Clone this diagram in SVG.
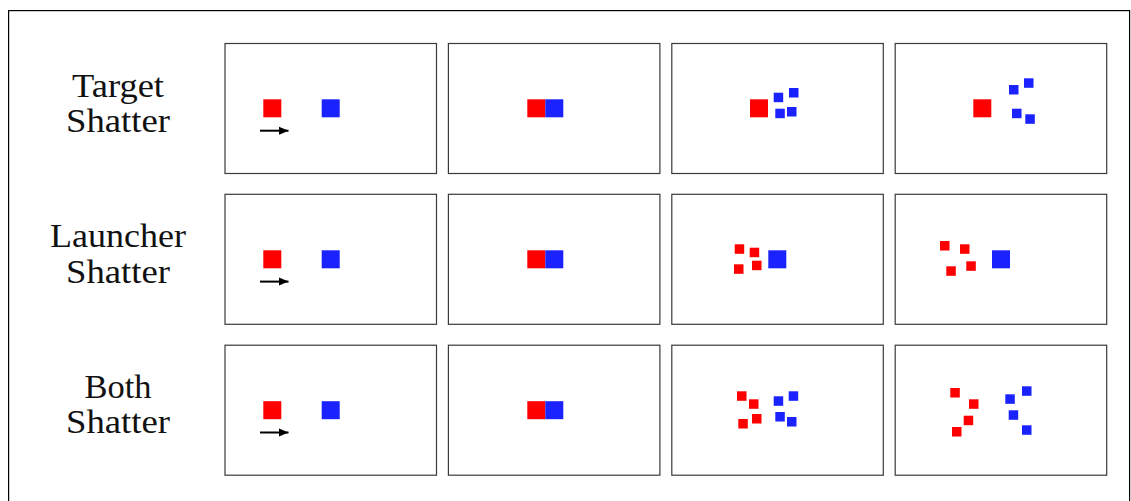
<svg xmlns="http://www.w3.org/2000/svg" width="1131" height="501" viewBox="0 0 1131 501">
<style>
.frame{fill:none;stroke:#000;stroke-width:1.2}
.panel{fill:#fff;stroke:#3a3a3a;stroke-width:1.2}
.r{fill:#ff0000}
.b{fill:#1a22ff}
.lbl{font-family:"Liberation Serif","Times New Roman",serif;font-size:34px;fill:#111;text-anchor:middle}
.arr{stroke:#000;stroke-width:2;fill:none}
</style>
<defs>
<marker id="ah" markerUnits="userSpaceOnUse" markerWidth="11" markerHeight="10" refX="10" refY="5" orient="auto">
<path d="M0,0.8 L10,5 L0,9.2 Z" fill="#000"/>
</marker>
</defs>
<rect width="1131" height="501" fill="#fff"/>
<rect class="frame" x="8.6" y="10.6" width="1121" height="500"/>

<g id="labels">
<text class="lbl" x="118" y="96.7" textLength="92" lengthAdjust="spacingAndGlyphs">Target</text>
<text class="lbl" x="118" y="131.7" textLength="104" lengthAdjust="spacingAndGlyphs">Shatter</text>
<text class="lbl" x="118" y="247" textLength="136" lengthAdjust="spacingAndGlyphs">Launcher</text>
<text class="lbl" x="118" y="282.7" textLength="104" lengthAdjust="spacingAndGlyphs">Shatter</text>
<text class="lbl" x="118" y="398.3" textLength="67" lengthAdjust="spacingAndGlyphs">Both</text>
<text class="lbl" x="118" y="433.3" textLength="104" lengthAdjust="spacingAndGlyphs">Shatter</text>
</g>

<!-- Row 1: Target Shatter -->
<g id="r1c1">
<rect class="panel" x="225" y="43.5" width="211.5" height="130"/>
<rect class="r" x="263.3" y="99.3" width="18" height="18"/>
<rect class="b" x="321.7" y="99.3" width="18" height="18"/>
</g>
<g id="r1c2">
<rect class="panel" x="448.4" y="43.5" width="211.5" height="130"/>
<rect class="r" x="527.3" y="99.3" width="18" height="18"/>
<rect class="b" x="545.3" y="99.3" width="18" height="18"/>
</g>
<g id="r1c3">
<rect class="panel" x="671.8" y="43.5" width="211.5" height="130"/>
<rect class="r" x="750" y="99.3" width="18" height="18"/>
<rect class="b" x="773.7" y="92.7" width="9.5" height="9.5"/>
<rect class="b" x="789" y="88" width="9.5" height="9.5"/>
<rect class="b" x="775.3" y="108.7" width="9.5" height="9.5"/>
<rect class="b" x="787" y="107" width="9.5" height="9.5"/>
</g>
<g id="r1c4">
<rect class="panel" x="895.2" y="43.5" width="211.5" height="130"/>
<rect class="r" x="973.3" y="99.3" width="18" height="18"/>
<rect class="b" x="1009" y="85" width="9.5" height="9.5"/>
<rect class="b" x="1024" y="78.3" width="9.5" height="9.5"/>
<rect class="b" x="1012" y="108.7" width="9.5" height="9.5"/>
<rect class="b" x="1025.3" y="114.3" width="9.5" height="9.5"/>
</g>

<!-- Row 2: Launcher Shatter -->
<g id="r2c1">
<rect class="panel" x="225" y="194.3" width="211.5" height="130"/>
<rect class="r" x="263.3" y="250.3" width="18" height="18"/>
<rect class="b" x="321.7" y="250.3" width="18" height="18"/>
</g>
<g id="r2c2">
<rect class="panel" x="448.4" y="194.3" width="211.5" height="130"/>
<rect class="r" x="527.3" y="250.3" width="18" height="18"/>
<rect class="b" x="545.3" y="250.3" width="18" height="18"/>
</g>
<g id="r2c3">
<rect class="panel" x="671.8" y="194.3" width="211.5" height="130"/>
<rect class="r" x="734.7" y="244.3" width="9.5" height="9.5"/>
<rect class="r" x="749.7" y="247.7" width="9.5" height="9.5"/>
<rect class="r" x="734" y="264.3" width="9.5" height="9.5"/>
<rect class="r" x="752" y="260.7" width="9.5" height="9.5"/>
<rect class="b" x="768.3" y="250.3" width="18" height="18"/>
</g>
<g id="r2c4">
<rect class="panel" x="895.2" y="194.3" width="211.5" height="130"/>
<rect class="r" x="940" y="241" width="9.5" height="9.5"/>
<rect class="r" x="960" y="244.3" width="9.5" height="9.5"/>
<rect class="r" x="946.3" y="266.3" width="9.5" height="9.5"/>
<rect class="r" x="966.3" y="261.3" width="9.5" height="9.5"/>
<rect class="b" x="992" y="250.3" width="18" height="18"/>
</g>

<!-- Row 3: Both Shatter -->
<g id="r3c1">
<rect class="panel" x="225" y="345.2" width="211.5" height="130"/>
<rect class="r" x="263.3" y="401.2" width="18" height="18"/>
<rect class="b" x="321.7" y="401.2" width="18" height="18"/>
</g>
<g id="r3c2">
<rect class="panel" x="448.4" y="345.2" width="211.5" height="130"/>
<rect class="r" x="527.3" y="401.2" width="18" height="18"/>
<rect class="b" x="545.3" y="401.2" width="18" height="18"/>
</g>
<g id="r3c3">
<rect class="panel" x="671.8" y="345.2" width="211.5" height="130"/>
<rect class="r" x="737" y="391.3" width="9.5" height="9.5"/>
<rect class="r" x="749" y="399.3" width="9.5" height="9.5"/>
<rect class="r" x="738.3" y="419" width="9.5" height="9.5"/>
<rect class="r" x="752" y="414" width="9.5" height="9.5"/>
<rect class="b" x="773.7" y="396.3" width="9.5" height="9.5"/>
<rect class="b" x="788.7" y="391.3" width="9.5" height="9.5"/>
<rect class="b" x="775.3" y="412" width="9.5" height="9.5"/>
<rect class="b" x="787" y="417" width="9.5" height="9.5"/>
</g>
<g id="r3c4">
<rect class="panel" x="895.2" y="345.2" width="211.5" height="130"/>
<rect class="r" x="950.3" y="388" width="9.5" height="9.5"/>
<rect class="r" x="969" y="399.3" width="9.5" height="9.5"/>
<rect class="r" x="963.7" y="415.7" width="9.5" height="9.5"/>
<rect class="r" x="952" y="427" width="9.5" height="9.5"/>
<rect class="b" x="1005.3" y="394.3" width="9.5" height="9.5"/>
<rect class="b" x="1022" y="386.3" width="9.5" height="9.5"/>
<rect class="b" x="1008.7" y="410.3" width="9.5" height="9.5"/>
<rect class="b" x="1022" y="425.3" width="9.5" height="9.5"/>
</g>

<g id="connectors">
<line class="arr" x1="260" y1="130.7" x2="288.5" y2="130.7" marker-end="url(#ah)"/>
<line class="arr" x1="260" y1="281.6" x2="288.5" y2="281.6" marker-end="url(#ah)"/>
<line class="arr" x1="260" y1="432.5" x2="288.5" y2="432.5" marker-end="url(#ah)"/>
</g>
</svg>
